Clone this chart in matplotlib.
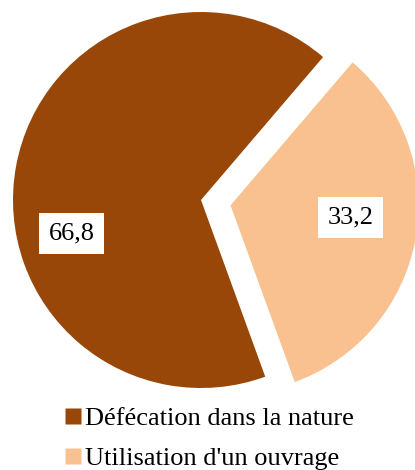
import numpy as np
import matplotlib
matplotlib.use('Agg')
import matplotlib.pyplot as plt
from matplotlib.lines import Line2D
from matplotlib import font_manager

categories = ['Défécation dans la nature', "Utilisation d'un ouvrage"]
values = [66.8, 33.2]
colors = ['#994708', '#f9c18f']
explode = [0, 30]

plt.rcParams['font.family'] = 'serif'
plt.rcParams['font.serif'] = ['Liberation Serif', 'Times New Roman', 'DejaVu Serif']

fig = plt.figure(figsize=(4.15, 4.70), dpi=100)
ax = fig.add_axes([0, 0, 1, 1])

wedges, _ = ax.pie(values, colors=colors, startangle=49.5, radius=188,
                   center=(201, 270), explode=explode, frame=False,
                   wedgeprops={'linewidth': 0})
ax.set_xlim(0, 415)
ax.set_ylim(0, 470)
ax.set_aspect('equal')
ax.axis('off')

# label placement: (angle in degrees, fraction of radius) from wedge centre
label_pos = [(194.5, 0.71), (-5.7, 0.64)]
for w, v, (ang, frac) in zip(wedges, values, label_pos):
    cx, cy = w.center
    x = cx + frac * w.r * np.cos(np.radians(ang))
    y = cy + frac * w.r * np.sin(np.radians(ang))
    ax.text(x, y, f'{v:.1f}'.replace('.', ','), ha='center', va='center',
            fontsize=19,
            bbox=dict(boxstyle='square,pad=0.36', fc='white', ec='none'))

handles = [Line2D([], [], marker='s', linestyle='none', markersize=11.5,
                  markerfacecolor=c, markeredgecolor='none') for c in colors]
ax.legend(handles, categories, loc='upper left', bbox_to_anchor=(0.158, 0.135),
          frameon=False, fontsize=19, handlelength=0.6, handletextpad=0.12,
          labelspacing=0.62, borderpad=0, borderaxespad=0)

fig.savefig('out.png', dpi=100)
